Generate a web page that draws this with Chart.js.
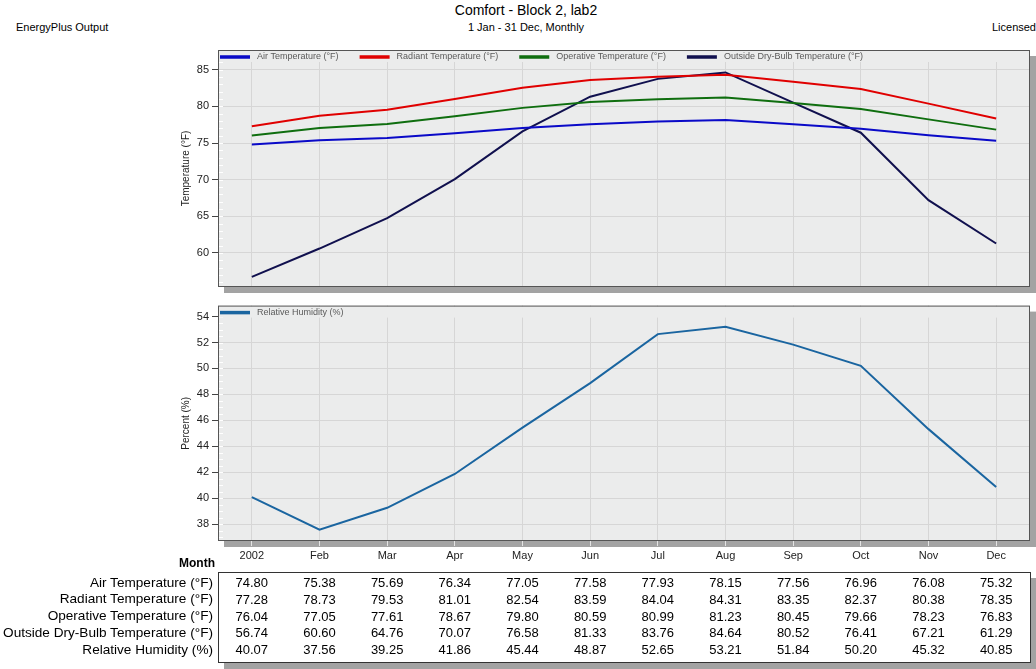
<!DOCTYPE html>
<html>
<head>
<meta charset="utf-8">
<script src="https://cdn.jsdelivr.net/npm/chart.js@4"></script>
<style>
  body { margin: 0; background: #fff; font-family: "Liberation Sans", Arial, sans-serif; }
  #page { position: relative; width: 1036px; height: 669px; overflow: hidden; }
  .txt { position: absolute; white-space: nowrap; color: #000; }
  canvas { position: absolute; }
  #tbox { position: absolute; left: 218px; top: 572px; width: 811px; height: 89px;
          border: 1px solid #333; background: #fff; box-shadow: 6px 6px 0 #a3a3a3; }
</style>
</head>
<body>
<div id="page">
  <div class="txt" style="left:0;width:1052px;text-align:center;top:2px;font-size:14px;">Comfort - Block 2, lab2</div>
  <div class="txt" style="left:0;width:1052px;text-align:center;top:21px;font-size:11px;">1 Jan - 31 Dec, Monthly</div>
  <div class="txt" style="left:16px;top:21px;font-size:11px;">EnergyPlus Output</div>
  <div class="txt" style="right:0;top:21px;font-size:11px;">Licensed</div>
  <canvas id="tempChart" width="860" height="300" style="left:176px;top:0;"></canvas>
  <canvas id="rhChart" width="860" height="274" style="left:176px;top:296px;"></canvas>
  <div class="txt" style="right:821px;top:556px;font-size:12px;font-weight:bold;">Month</div>
  <div id="tbox"></div>
  <div id="table"></div>
</div>
<script>
const months = ["2002", "Feb", "Mar", "Apr", "May", "Jun", "Jul", "Aug", "Sep", "Oct", "Nov", "Dec"];
const airTemp = [74.80, 75.38, 75.69, 76.34, 77.05, 77.58, 77.93, 78.15, 77.56, 76.96, 76.08, 75.32];
const radiantTemp = [77.28, 78.73, 79.53, 81.01, 82.54, 83.59, 84.04, 84.31, 83.35, 82.37, 80.38, 78.35];
const operativeTemp = [76.04, 77.05, 77.61, 78.67, 79.80, 80.59, 80.99, 81.23, 80.45, 79.66, 78.23, 76.83];
const outsideTemp = [56.74, 60.60, 64.76, 70.07, 76.58, 81.33, 83.76, 84.64, 80.52, 76.41, 67.21, 61.29];
const humidity = [40.07, 37.56, 39.25, 41.86, 45.44, 48.87, 52.65, 53.21, 51.84, 50.20, 45.32, 40.85];
const tempTicks = [60, 65, 70, 75, 80, 85];
const rhTicks = [38, 40, 42, 44, 46, 48, 50, 52, 54];

const FONT = "'Liberation Sans', Arial, sans-serif";

// plot frame: shadow, background, minor ticks, inside legend, border
const framePlugin = {
    id: "frame",
    beforeDraw(chart) {
        const a = chart.chartArea, c = chart.ctx;
        c.save();
        c.fillStyle = "#a3a3a3";
        c.fillRect(a.left + 6, a.top + 6, a.right - a.left, a.bottom - a.top);
        c.fillStyle = "#ebecec";
        c.fillRect(a.left, a.top, a.right - a.left, a.bottom - a.top);
        c.restore();
    },
    afterDatasetsDraw(chart, args, opts) {
        const a = chart.chartArea, c = chart.ctx, y = chart.scales.y;
        c.save();
        // minor ticks
        c.strokeStyle = "#ffffff";
        c.lineWidth = 1;
        for (let v = Math.ceil(y.min / opts.minor) * opts.minor; v <= y.max; v += opts.minor) {
            const py = Math.round(y.getPixelForValue(v)) + 0.5;
            c.beginPath();
            c.moveTo(a.left + 1, py);
            c.lineTo(a.left + 5, py);
            c.stroke();
        }
        // legend band
        c.fillStyle = "#ebecec";
        c.fillRect(a.left + 1, a.top + 1, a.right - a.left - 2, 11);
        let x = a.left + 2;
        const ly = a.top + 7;
        c.font = "9px " + FONT;
        c.textBaseline = "middle";
        chart.data.datasets.forEach(ds => {
            c.strokeStyle = ds.borderColor;
            c.lineWidth = 3.5;
            c.beginPath();
            c.moveTo(x, ly);
            c.lineTo(x + 30, ly);
            c.stroke();
            c.fillStyle = "#5a5a5a";
            c.fillText(ds.label, x + 37, ly);
            x += 37 + c.measureText(ds.label).width + 21;
        });
        // border
        c.strokeStyle = "#555";
        c.lineWidth = 1;
        c.strokeRect(a.left + 0.5, a.top + 0.5, a.right - a.left - 1, a.bottom - a.top - 1);
        c.restore();
    }
};

function lineSet(label, data, color) {
    return { label: label, data: data, borderColor: color, backgroundColor: color,
             borderWidth: 2, pointRadius: 0, tension: 0, fill: false };
}

function makeOptions(yMin, yMax, ticks, title, showX, xHeight, padding, minor) {
    return {
        responsive: false,
        animation: false,
        devicePixelRatio: 1,
        layout: { padding: padding },
        plugins: {
            legend: { display: false },
            tooltip: { enabled: false },
            frame: { minor: minor }
        },
        scales: {
            x: {
                offset: true,
                grid: { color: "#d6d6d6", drawTicks: showX, tickLength: 5, tickColor: "#e4e4e4" },
                border: { display: false },
                ticks: { display: showX, color: "#222", font: { family: FONT, size: 11 }, padding: 3, maxRotation: 0 },
                afterFit(scale) { scale.height = xHeight; }
            },
            y: {
                min: yMin,
                max: yMax,
                afterBuildTicks(scale) { scale.ticks = ticks.map(v => ({ value: v })); },
                grid: { color: "#d6d6d6", tickLength: 6, tickColor: "#444" },
                border: { display: false },
                ticks: { color: "#222", font: { family: FONT, size: 11 }, padding: 3 },
                title: { display: true, text: title, color: "#222", font: { family: FONT, size: 10 }, padding: { top: 4, bottom: 0 } },
                afterFit(scale) { scale.width = 42; }
            }
        }
    };
}

new Chart(document.getElementById("tempChart"), {
    type: "line",
    data: {
        labels: months,
        datasets: [
            lineSet("Air Temperature (°F)", airTemp, "#0a0ac8"),
            lineSet("Radiant Temperature (°F)", radiantTemp, "#e00000"),
            lineSet("Operative Temperature (°F)", operativeTemp, "#0f6e0f"),
            lineSet("Outside Dry-Bulb Temperature (°F)", outsideTemp, "#10104e")
        ]
    },
    options: makeOptions(55.35, 87.7, tempTicks, "Temperature (°F)", false, 0,
                         { top: 50, right: 6, bottom: 13, left: 0 }, 1),
    plugins: [framePlugin]
});

const rhChart = new Chart(document.getElementById("rhChart"), {
    type: "line",
    data: {
        labels: months,
        datasets: [lineSet("Relative Humidity (%)", humidity, "#1a65a0")]
    },
    options: makeOptions(36.69, 54.85, rhTicks, "Percent (%)", true, 29,
                         { top: 9, right: 6, bottom: 0, left: 0 }, 0.5),
    plugins: [framePlugin]
});

// data table under the charts, columns aligned to the x scale
const rows = [
    ["Air Temperature (°F)", airTemp],
    ["Radiant Temperature (°F)", radiantTemp],
    ["Operative Temperature (°F)", operativeTemp],
    ["Outside Dry-Bulb Temperature (°F)", outsideTemp],
    ["Relative Humidity (%)", humidity]
];
const table = document.getElementById("table");
const xScale = rhChart.scales.x;
rows.forEach((row, r) => {
    const top = 575 + r * 16.8;
    const lab = document.createElement("div");
    lab.className = "txt";
    lab.style.cssText = "right:823px;top:" + (top - 0.5) + "px;font-size:13.6px;";
    lab.textContent = row[0];
    table.appendChild(lab);
    row[1].forEach((v, i) => {
        const cx = 176 + xScale.getPixelForValue(i);
        const d = document.createElement("div");
        d.className = "txt";
        d.style.cssText = "left:" + (cx - 40) + "px;width:80px;text-align:center;top:" + top + "px;font-size:13px;";
        d.textContent = v.toFixed(2);
        table.appendChild(d);
    });
});
</script>
</body>
</html>
